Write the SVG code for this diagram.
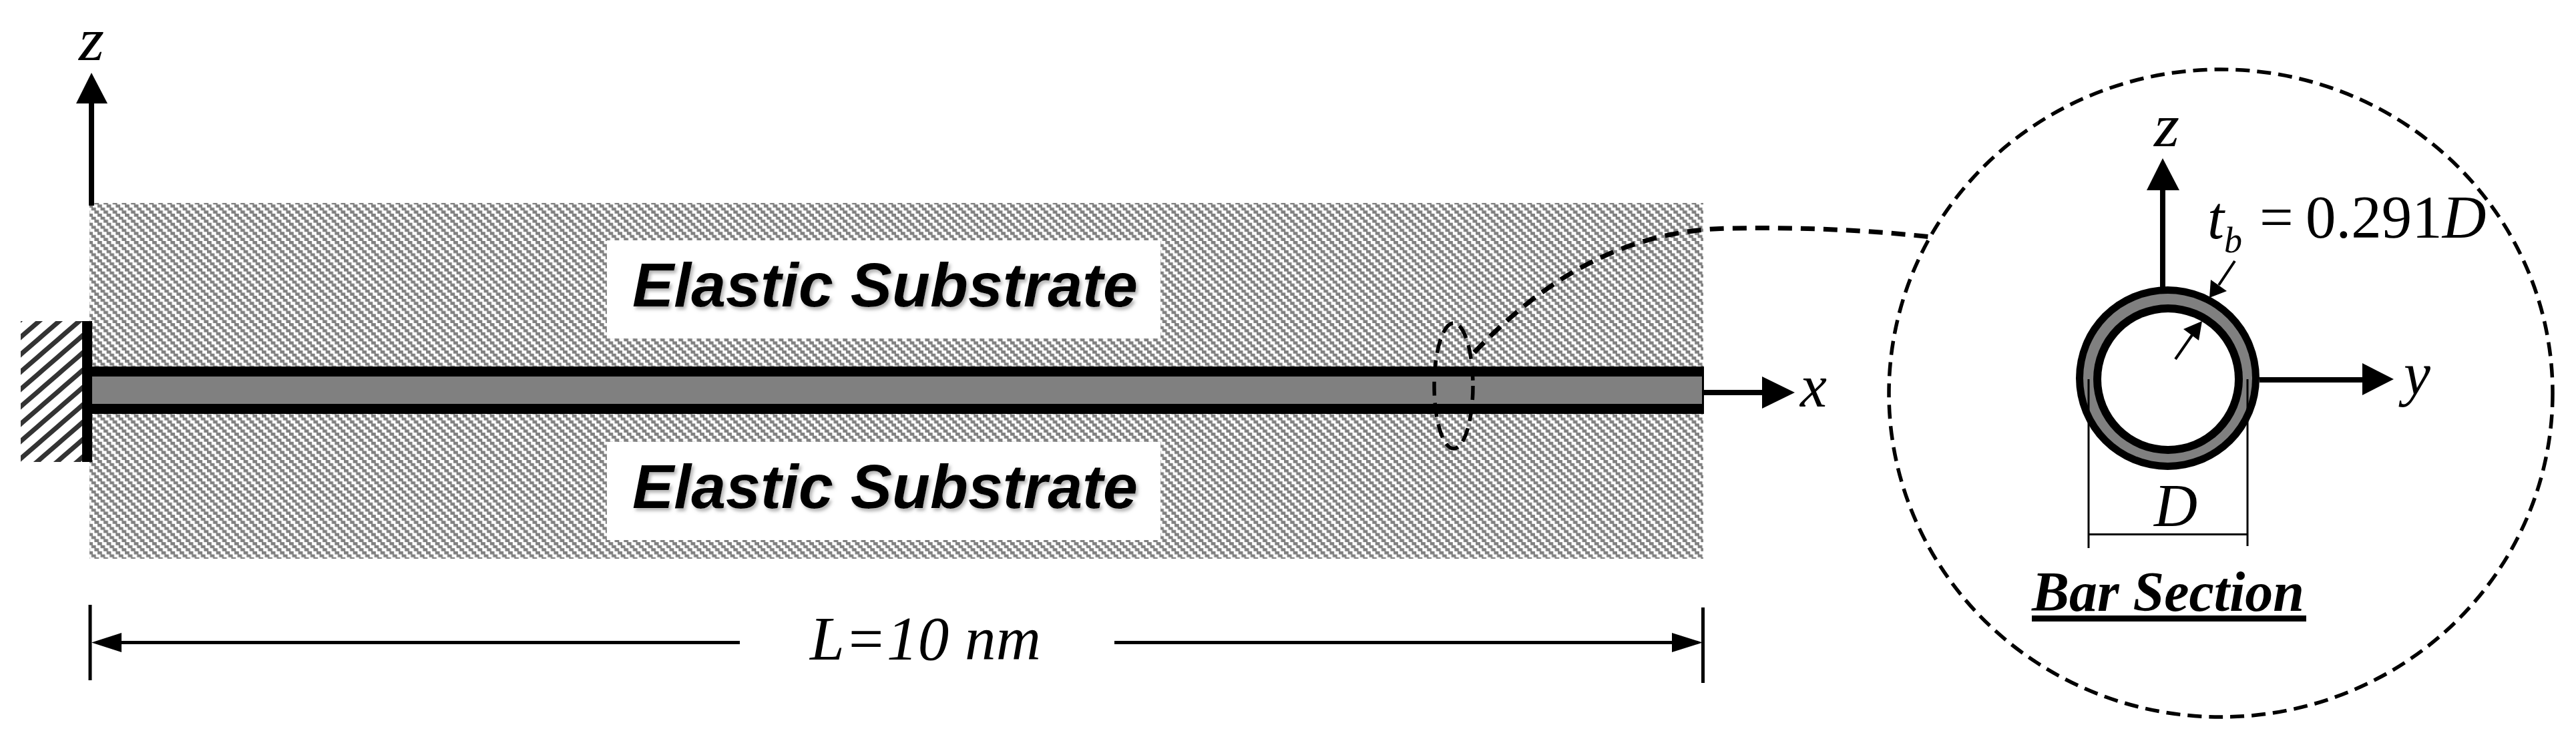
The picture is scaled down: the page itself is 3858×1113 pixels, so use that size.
<svg xmlns="http://www.w3.org/2000/svg" width="3858" height="1113" viewBox="0 0 3858 1113">
<style>
.serif{font-family:"Liberation Serif","Times New Roman",serif;fill:#000}
.i{font-style:italic}
.sub{font-family:"Liberation Sans",Arial,sans-serif;font-weight:bold;font-style:italic;font-size:93px;filter:url(#shadow);fill:#000}
.dash{fill:none;stroke:#000;stroke-width:5.5;stroke-dasharray:21 11}
.dash2{fill:none;stroke:#000;stroke-width:7;stroke-dasharray:21 13}
.line{fill:none;stroke:#000}
</style>
<defs>
<pattern id="hatchFine" patternUnits="userSpaceOnUse" x="9.23" y="5.59" width="13.67" height="13.67">
<rect width="13.67" height="13.67" fill="#fff"/>
<path d="M0,0H6.8V4.557H0ZM4.557,4.557H11.357V9.113H4.557ZM9.113,9.113H13.67V13.67H9.113ZM0,9.113H2.243V13.67H0Z" fill="#808080"/>
</pattern>
<pattern id="hatchWall" patternUnits="userSpaceOnUse" x="31" y="479" width="30" height="26">
<rect width="30" height="26" fill="#fff"/>
<path d="M-30,26L30,-26M-30,52L60,-26M0,52L60,0" stroke="#333" stroke-width="7" fill="none"/>
</pattern>
<filter id="shadow" x="-5%" y="-20%" width="110%" height="150%">
<feDropShadow dx="3" dy="4" stdDeviation="2.5" flood-color="#808080" flood-opacity="0.6"/>
</filter>
</defs>
<rect width="3858" height="1113" fill="#fff"/>
<g id="substrate">
<rect x="134" y="304" width="2417" height="533" fill="url(#hatchFine)"/>
</g>
<g id="substrate-top-label">
<rect x="909" y="360" width="829" height="147" fill="#fff"/>
<text class="sub" x="947" y="459" textLength="757" lengthAdjust="spacingAndGlyphs">Elastic Substrate</text>
</g>
<g id="substrate-bottom-label">
<rect x="909" y="662" width="829" height="147" fill="#fff"/>
<text class="sub" x="947" y="761" textLength="757" lengthAdjust="spacingAndGlyphs">Elastic Substrate</text>
</g>
<g id="support">
<rect x="31" y="481" width="92" height="211" fill="url(#hatchWall)"/>
<rect x="123" y="481" width="15" height="211" fill="#000"/>
</g>
<g id="bar">
<rect x="138" y="549" width="2414" height="71" fill="#000"/>
<rect x="138" y="564" width="2411" height="41" fill="#808080"/>
</g>
<g id="bar-section">
<circle cx="3246.5" cy="566.5" r="137.5" fill="#000"/>
<circle cx="3246.5" cy="566.5" r="126.5" fill="#808080"/>
<circle cx="3247" cy="568" r="112" fill="#000"/>
<circle cx="3247" cy="568" r="100" fill="#fff"/>
</g>
<g id="detail-circle">
<ellipse class="dash" cx="3326" cy="589" rx="497" ry="485"/>
</g>
<g id="connectors">
<ellipse class="dash" cx="2177" cy="578" rx="29" ry="94"/>
<path class="dash2" d="M2208,528C2290,442 2410,345 2590,342C2700,340 2800,345 2892,355"/>
<path class="line" stroke-width="8" d="M137,155V308"/>
<polygon points="137,109 161,155 114,155"/>
<path class="line" stroke-width="8" d="M2552,588H2640"/>
<polygon points="2688,588 2639,564 2639,612"/>
<path class="line" stroke-width="5" d="M135,906V1019M2550.5,910V1023"/>
<path class="line" stroke-width="5" d="M180,962.5H1108M1669,962.5H2506"/>
<polygon points="137,962.5 182,948 182,977"/>
<polygon points="2550,962.5 2504,948 2504,977"/>
<path class="line" stroke-width="8" d="M3239,285V430"/>
<polygon points="3239,237 3264,285 3215,285"/>
<path class="line" stroke-width="8" d="M3384,569H3540"/>
<polygon points="3585,568 3538,544 3538,592"/>
<path class="line" stroke-width="4" d="M3347,391L3323,427M3258,538L3283,502"/>
<polygon points="3309,446 3311,419 3335,436"/>
<polygon points="3298,481 3270,493 3293,510"/>
<path class="line" stroke-width="3" d="M3128,568V821M3366,568V818M3128,800.5H3366"/>
</g>
<g id="labels">
<text class="serif i" x="118" y="90" font-size="90" textLength="38" lengthAdjust="spacingAndGlyphs">z</text>
<text class="serif i" x="2696" y="609" font-size="90">x</text>
<text class="serif i" x="3226" y="219" font-size="90" textLength="38" lengthAdjust="spacingAndGlyphs">z</text>
<text class="serif i" x="3600" y="591" font-size="90">y</text>
<text class="serif i" x="3306" y="357" font-size="90">t</text>
<text class="serif i" x="3331" y="378" font-size="54">b</text>
<text class="serif" x="3384" y="356" font-size="90">=</text>
<text class="serif" x="3453" y="356" font-size="91">0.291<tspan class="i">D</tspan></text>
<text class="serif i" x="3226" y="788" font-size="90">D</text>
<text class="serif i" x="1213" y="988" font-size="93" textLength="346">L=10 nm</text>
<text class="serif i" x="3043" y="915" font-size="84" font-weight="bold" textLength="408">Bar Section</text>
<rect x="3043" y="922" width="411" height="9" fill="#000"/>
</g>
</svg>
